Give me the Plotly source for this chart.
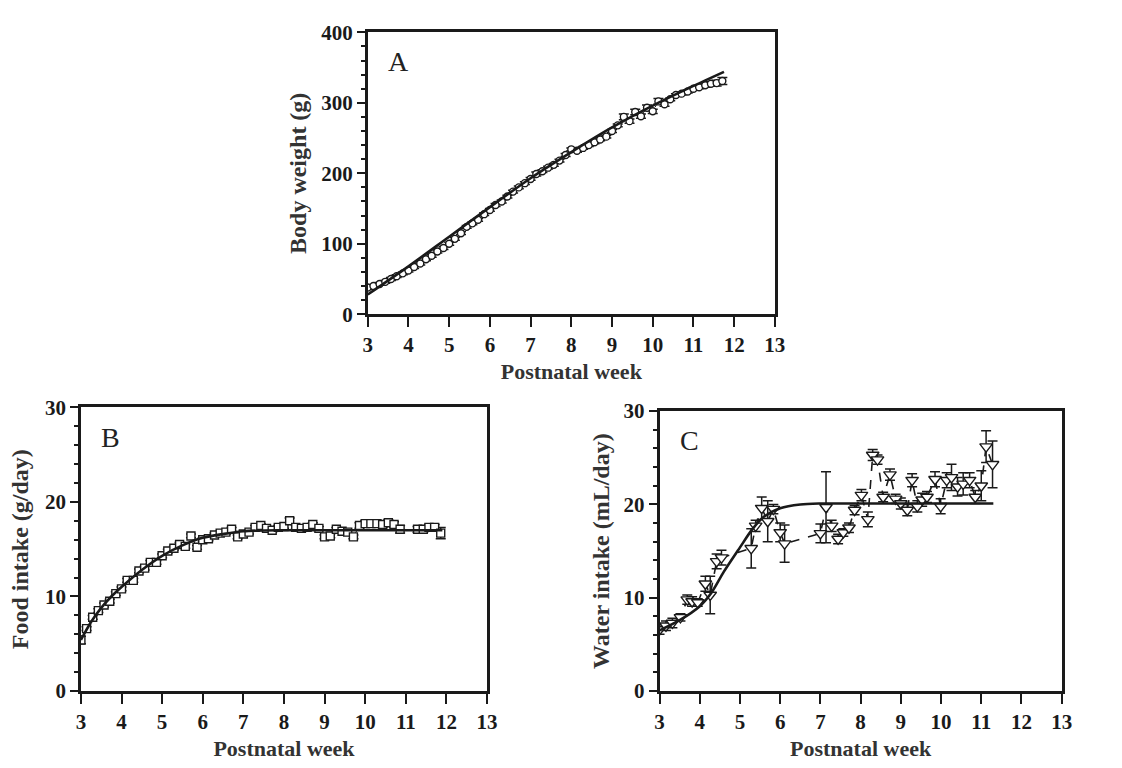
import plotly.graph_objects as go

# ---------------- Panel A: body weight ----------------
weeks_A = [3.0, 3.14, 3.29, 3.43, 3.57, 3.71, 3.86, 4.0, 4.14, 4.29, 4.43, 4.57, 4.71, 4.86,
           5.0, 5.14, 5.29, 5.43, 5.57, 5.71, 5.86, 6.0, 6.14, 6.29, 6.43, 6.57, 6.71, 6.86,
           7.0, 7.14, 7.29, 7.43, 7.57, 7.71, 7.86, 8.0, 8.14, 8.29, 8.43, 8.57, 8.71, 8.86,
           9.0, 9.14, 9.29, 9.43, 9.57, 9.71, 9.86, 10.0, 10.14, 10.29, 10.43, 10.57, 10.71,
           10.86, 11.0, 11.14, 11.29, 11.43, 11.57, 11.71]
weight_A = [38, 40, 43, 46, 50, 54, 58, 62, 67, 72, 78, 83, 89, 94,
            100, 107, 115, 124, 129, 134, 142, 148, 155, 160, 167, 174, 180, 186,
            192, 199, 203, 208, 212, 218, 226, 234, 232, 236, 240, 244, 248, 252,
            260, 268, 280, 274, 287, 281, 293, 288, 302, 298, 305, 311, 313, 316,
            320, 322, 325, 327, 328, 331]
weight_err_A = [3, 2, 2, 2, 2, 2, 2, 2, 2, 2, 2, 2, 2, 2,
                2, 2, 2, 2, 2, 2, 2, 2, 2, 2, 2, 2, 2, 2,
                2, 3, 2, 2, 2, 2, 2, 2, 2, 2, 2, 2, 2, 2,
                2, 2, 4, 3, 4, 3, 4, 3, 4, 3, 2, 2, 2, 2,
                2, 2, 3, 3, 4, 5]
fit_weeks_A = [3.0, 4.0, 5.0, 6.0, 7.0, 8.0, 9.0, 10.0, 11.0, 11.75]
fit_weight_A = [28, 68, 110, 152, 193, 230, 265, 296, 324, 344]

# ---------------- Panel B: food intake ----------------
weeks_B = [3.0, 3.14, 3.29, 3.43, 3.57, 3.71, 3.86, 4.0, 4.14, 4.29, 4.43, 4.57, 4.71, 4.86,
           5.0, 5.14, 5.29, 5.43, 5.57, 5.71, 5.86, 6.0, 6.14, 6.29, 6.43, 6.57, 6.71, 6.86,
           7.0, 7.14, 7.29, 7.43, 7.57, 7.71, 7.86, 8.0, 8.14, 8.29, 8.43, 8.57, 8.71, 8.86,
           9.0, 9.14, 9.29, 9.43, 9.57, 9.71, 9.86, 10.0, 10.14, 10.29, 10.43, 10.57, 10.71,
           10.86, 11.29, 11.43, 11.57, 11.71, 11.86]
food_B = [5.4, 6.6, 7.8, 8.5, 9.1, 9.5, 10.3, 10.8, 11.7, 11.7, 12.7, 13.0, 13.6, 13.6,
          14.3, 14.8, 15.1, 15.5, 15.3, 16.4, 15.2, 16.0, 16.1, 16.5, 16.7, 16.8, 17.1, 16.3,
          16.6, 16.8, 17.3, 17.5, 17.2, 17.0, 17.3, 17.4, 18.0, 17.3, 17.2, 17.3, 17.6, 17.2,
          16.3, 16.4, 17.1, 16.9, 16.8, 16.3, 17.5, 17.7, 17.7, 17.7, 17.6, 17.8, 17.6,
          17.1, 17.1, 17.1, 17.3, 17.3, 16.7]
food_err_B = [0.4, 0.2, 0.2, 0.2, 0.2, 0.2, 0.2, 0.2, 0.2, 0.2, 0.2, 0.2, 0.2, 0.2,
              0.2, 0.2, 0.2, 0.2, 0.2, 0.2, 0.2, 0.2, 0.2, 0.2, 0.2, 0.2, 0.2, 0.2,
              0.2, 0.2, 0.2, 0.2, 0.2, 0.2, 0.2, 0.2, 0.3, 0.2, 0.2, 0.2, 0.2, 0.2,
              0.2, 0.2, 0.2, 0.2, 0.2, 0.2, 0.3, 0.3, 0.3, 0.3, 0.3, 0.3, 0.3,
              0.4, 0.3, 0.3, 0.3, 0.3, 0.6]
fit_weeks_B = [3.0, 3.25, 3.5, 3.75, 4.0, 4.5, 5.0, 5.5, 6.0, 6.5, 7.0, 8.0, 9.0, 10.0, 11.0, 11.9]
fit_food_B = [5.4, 7.3, 8.8, 10.0, 11.0, 12.8, 14.3, 15.4, 16.2, 16.6, 16.9, 17.0, 17.0, 17.0, 17.0, 17.0]

# ---------------- Panel C: water intake ----------------
weeks_C = [3.0, 3.16, 3.32, 3.52, 3.69, 3.81, 3.95, 4.14, 4.26, 4.42, 4.54,
           5.28, 5.39, 5.54, 5.69, 5.83, 6.0, 6.11,
           7.0, 7.14, 7.28, 7.44, 7.57, 7.71, 7.85, 8.02, 8.18, 8.3, 8.42, 8.56, 8.73, 8.87,
           9.0, 9.16, 9.28, 9.41, 9.53, 9.65, 9.85, 9.99, 10.14, 10.26, 10.41, 10.55, 10.71,
           10.85, 11.0, 11.12, 11.28]
water_C = [6.6, 7.0, 7.3, 7.9, 9.8, 9.6, 9.5, 11.5, 10.3, 13.9, 14.3,
           15.3, 17.7, 19.6, 18.2, 19.5, 17.0, 15.8,
           16.9, 19.7, 17.7, 16.3, 17.0, 17.5, 19.4, 21.0, 18.4, 25.3, 24.8, 20.8, 23.2, 20.6,
           20.1, 19.4, 22.6, 19.8, 20.5, 20.8, 22.7, 19.8, 22.6, 22.9, 21.9, 22.2, 22.6,
           20.8, 22.0, 26.2, 24.3]
water_err_C = [0.5, 0.5, 0.5, 0.4, 0.5, 0.5, 0.4, 0.8, 2.0, 0.8, 0.8,
               2.1, 0.6, 1.2, 2.2, 0.5, 1.0, 2.0,
               1.0, 3.8, 0.6, 0.5, 0.4, 0.5, 0.5, 0.6, 0.8, 0.6, 0.5, 0.5, 0.6, 0.5,
               0.6, 0.6, 0.7, 0.6, 0.7, 0.6, 0.8, 0.8, 0.8, 1.4, 1.0, 1.2, 0.8,
               0.7, 1.6, 1.7, 2.5]
fit_weeks_C = [3.0, 3.5, 4.0, 4.3, 4.6, 5.0, 5.3, 5.6, 6.0, 6.5, 7.0, 8.0, 9.0, 10.0, 11.3]
fit_water_C = [6.5, 7.6, 9.1, 10.6, 12.8, 15.4, 17.3, 18.7, 19.6, 20.0, 20.1, 20.1, 20.1, 20.1, 20.1]

x_ticks = [3, 4, 5, 6, 7, 8, 9, 10, 11, 12, 13]

SERIF = "Liberation Serif, Times New Roman, serif"
INK = "#1a1a1a"

fig = go.Figure()


def add_panel(fig, xa, ya, wx, wy, werr, symbol, size, fx, fy, dashed_width):
    fig.add_trace(go.Scatter(
        x=wx, y=wy, mode="lines+markers", xaxis=xa, yaxis=ya,
        line=dict(color=INK, width=dashed_width, dash="dash"),
        marker=dict(symbol=symbol, size=size, color="white",
                    line=dict(color=INK, width=1.4)),
        error_y=dict(type="data", array=werr, visible=True, color=INK,
                     thickness=1.5, width=5),
        showlegend=False, hoverinfo="skip"))
    fig.add_trace(go.Scatter(
        x=fx, y=fy, mode="lines", xaxis=xa, yaxis=ya,
        line=dict(color=INK, width=2.6, shape="spline", smoothing=0.8),
        showlegend=False, hoverinfo="skip"))


add_panel(fig, "x", "y", weeks_A, weight_A, weight_err_A, "circle", 7,
          fit_weeks_A, fit_weight_A, 1.0)
add_panel(fig, "x2", "y2", weeks_B, food_B, food_err_B, "square", 8,
          fit_weeks_B, fit_food_B, 1.0)
add_panel(fig, "x3", "y3", weeks_C, water_C, water_err_C, "triangle-down", 11,
          fit_weeks_C, fit_water_C, 1.6)

W, H = 1122, 768


def dom_x(a, b):
    return [a / W, b / W]


def dom_y(top, bottom):
    return [1 - bottom / H, 1 - top / H]


tickfont = dict(family=SERIF, size=21, color=INK, weight="bold")
xtitlefont = dict(family=SERIF, size=22, color="#333", weight="bold")
ytitlefont = dict(family=SERIF, size=24, color="#333", weight="bold")


def xaxis(domain, anchor):
    return dict(domain=domain, anchor=anchor, range=[3, 13], tickvals=x_ticks,
                ticks="outside", ticklen=10, tickwidth=2, tickcolor=INK,
                showline=True, linewidth=2.5, linecolor=INK, mirror=True,
                showgrid=False, zeroline=False, tickfont=tickfont,
                title=dict(text="Postnatal week", font=xtitlefont, standoff=8))


def yaxis(domain, anchor, rng, dtick, minor_dtick, title, standoff):
    return dict(domain=domain, anchor=anchor, range=rng, dtick=dtick,
                ticks="outside", ticklen=8, tickwidth=2, tickcolor=INK,
                minor=dict(dtick=minor_dtick, ticks="outside", ticklen=4,
                           tickwidth=1.5, tickcolor=INK),
                showline=True, linewidth=2.5, linecolor=INK, mirror=True,
                showgrid=False, zeroline=False, tickfont=tickfont,
                title=dict(text=title, font=ytitlefont, standoff=standoff))


fig.update_layout(
    width=W, height=H, margin=dict(l=0, r=0, t=0, b=0),
    paper_bgcolor="white", plot_bgcolor="white",
    xaxis=xaxis(dom_x(368, 781), "y"),
    yaxis=yaxis(dom_y(21, 312), "x", [0, 400], 100, 20, "Body weight (g)", 8),
    xaxis2=xaxis(dom_x(77, 489), "y2"),
    yaxis2=yaxis(dom_y(408, 701), "x2", [0, 30], 10, 2, "Food intake (g/day)", 10),
    xaxis3=xaxis(dom_x(664, 1072), "y3"),
    yaxis3=yaxis(dom_y(412, 701), "x3", [0, 30], 10, 2, "Water intake (mL/day)", 8),
)

for label, xref, yref in [("A", "x", "y"), ("B", "x2", "y2"), ("C", "x3", "y3")]:
    fig.add_annotation(text=label, xref=f"{xref} domain", yref=f"{yref} domain",
                       x=0.045, y=0.895, xanchor="left", yanchor="middle",
                       showarrow=False,
                       font=dict(family=SERIF, size=28, color="#222"))

fig.write_html("out.html",
               config={"displayModeBar": False},
               post_script="document.body.style.margin='0';document.body.style.overflow='hidden';")
